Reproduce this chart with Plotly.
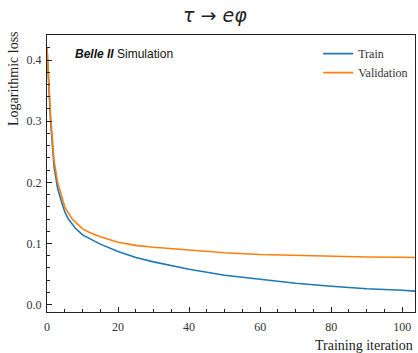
import plotly.graph_objects as go

# Loss curves per training iteration
iterations = [0, 1, 2, 3, 4, 5, 6, 7, 8, 10, 12, 15, 20, 25, 30, 40, 50, 60, 70, 80, 90, 100, 104]
train_loss = [0.42, 0.30, 0.225, 0.19, 0.17, 0.152, 0.14, 0.132, 0.125, 0.114, 0.108, 0.099,
              0.087, 0.077, 0.070, 0.058, 0.048, 0.041, 0.035, 0.030, 0.026, 0.0235, 0.022]
valid_loss = [0.42, 0.31, 0.235, 0.20, 0.18, 0.160, 0.150, 0.141, 0.135, 0.124, 0.118, 0.111,
              0.102, 0.097, 0.094, 0.089, 0.085, 0.082, 0.0805, 0.079, 0.078, 0.0775, 0.077]

x_ticks = [0, 20, 40, 60, 80, 100]
y_ticks = [0.0, 0.1, 0.2, 0.3, 0.4]
y_tick_labels = ["0.0", "0.1", "0.2", "0.3", "0.4"]

SERIF = "Liberation Serif"

fig = go.Figure()
fig.add_trace(go.Scatter(x=iterations, y=train_loss, mode="lines", name="Train",
                         line=dict(color="#1f77b4", width=1.6)))
fig.add_trace(go.Scatter(x=iterations, y=valid_loss, mode="lines", name="Validation",
                         line=dict(color="#ff7f0e", width=1.6)))

axis_common = dict(showgrid=False, zeroline=False, showline=True, linecolor="#222",
                   linewidth=1, mirror=True, ticks="inside", ticklen=5, tickwidth=1,
                   tickcolor="#222", tickfont=dict(family=SERIF, size=12, color="#333"))

fig.update_xaxes(range=[0, 103.6], tickvals=x_ticks,
                 minor=dict(dtick=5, tick0=0, ticks="inside", ticklen=3, tickcolor="#222"),
                 ticklabelstandoff=4, **axis_common)
fig.update_yaxes(range=[-0.012, 0.441], tickvals=y_ticks, ticktext=y_tick_labels,
                 minor=dict(dtick=0.02, tick0=0, ticks="inside", ticklen=3, tickcolor="#222"),
                 ticklabelstandoff=2, **axis_common)

fig.update_layout(
    width=418, height=353,
    margin=dict(l=47, r=3, t=35, b=41),
    paper_bgcolor="white", plot_bgcolor="white",
    showlegend=True,
    legend=dict(x=0.737, y=0.985, xanchor="left", yanchor="top",
                bgcolor="rgba(0,0,0,0)", font=dict(family=SERIF, size=12, color="#333"),
                itemwidth=30, tracegroupgap=0),
    annotations=[
        dict(text="<i>τ</i> → <i>eφ</i>", xref="paper", yref="paper", x=0.456, y=1.0,
             yshift=20, xanchor="center", yanchor="middle", showarrow=False,
             font=dict(family="DejaVu Sans", size=19, color="#222")),
        dict(text="<b><i>Belle II</i></b> Simulation", xref="paper", yref="paper",
             x=0.072, y=0.93, xanchor="left", yanchor="middle", showarrow=False,
             font=dict(family="Liberation Sans", size=12, color="#111")),
        dict(text="Logarithmic loss", xref="paper", yref="paper", x=0, xshift=-33,
             y=1.02, xanchor="center", yanchor="top", textangle=-90, showarrow=False,
             font=dict(family=SERIF, size=14, color="#222")),
        dict(text="Training iteration", xref="paper", yref="paper", x=1.0, y=0,
             yshift=-24, xanchor="right", yanchor="top", showarrow=False,
             font=dict(family=SERIF, size=14, color="#222")),
    ],
)

fig.write_html("out.html")
